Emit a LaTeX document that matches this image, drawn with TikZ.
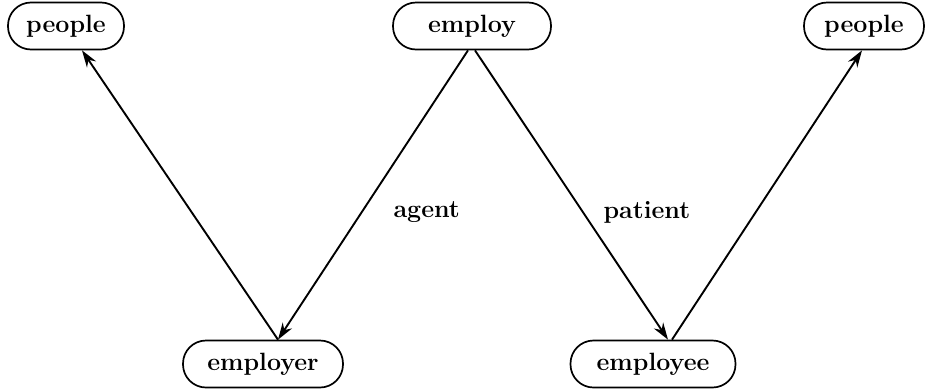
\documentclass[tikz,border=0pt]{standalone}
\usepackage{fontspec}
\usetikzlibrary{arrows.meta,calc}
\begin{document}
\begin{tikzpicture}[x=1pt,y=-1pt,
  concept/.style={draw,line width=1.7pt,rounded corners=23pt,minimum height=47pt,inner xsep=0pt,font=\fontsize{25}{30}\selectfont\bfseries},
  rel/.style={line width=1.9pt,-{Stealth[length=17pt,width=11pt]}},
  lbl/.style={font=\fontsize{25}{30}\selectfont\bfseries}]
\useasboundingbox (0,0) rectangle (931,389);
\node[concept,minimum width=116pt] (peopleL) at (66,26) {people};
\node[concept,minimum width=158pt] (employ) at (472,26) {employ};
\node[concept,minimum width=120pt] (peopleR) at (864,26) {people};
\node[concept,minimum width=160pt] (employer) at (263,364) {employer};
\node[concept,minimum width=165pt] (employee) at (653,364) {employee};
\draw[rel] ([xshift=15pt]employer.north) -- ([xshift=16pt]peopleL.south);
\draw[rel] ([xshift=-4pt]employ.south) -- ([xshift=15pt]employer.north);
\draw[rel] ([xshift=3pt]employ.south) -- ([xshift=15pt]employee.north);
\draw[rel] ([xshift=19pt]employee.north) -- ([xshift=-2pt]peopleR.south);
\node[lbl,anchor=west] (agent) at (390,212) {agent};
\node[lbl,anchor=west] (patient) at (600,212) {patient};
\end{tikzpicture}
\end{document}
